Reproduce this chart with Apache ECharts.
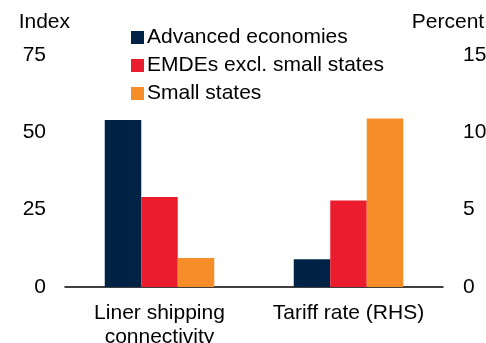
<!DOCTYPE html>
<html lang="en">
<head>
    <meta charset="UTF-8">
    <title>Liner shipping connectivity and tariff rate</title>
    <script src="https://cdn.jsdelivr.net/npm/echarts@6/dist/echarts.min.js"></script>
    <style>
        html, body { margin: 0; padding: 0; background: #fff; }
        #main { width: 486px; height: 343px; }
    </style>
</head>
<body>
<div id="main"></div>
<script>
    // categories and series
    const categories = ['Liner shipping\nconnectivity', 'Tariff rate (RHS)'];
    const seriesNames = ['Advanced economies', 'EMDEs excl. small states', 'Small states'];
    const colors = ['#002345', '#EB1C2D', '#F78D28'];

    // liner shipping connectivity, index (left axis)
    const linerIndex = [54.0, 29.1, 9.4];
    // tariff rate, percent (right axis)
    const tariffPct = [1.8, 5.6, 10.9];

    const leftTicks = { min: 0, max: 75, interval: 25 };
    const rightTicks = { min: 0, max: 15, interval: 5 };

    const chart = echarts.init(document.getElementById('main'));
    const font = 'Liberation Sans, Arial, sans-serif';

    const series = [];
    // left axis bars: first category only
    seriesNames.forEach((name, i) => {
        series.push({
            name: name,
            type: 'bar',
            xAxisIndex: 0,
            yAxisIndex: 0,
            barWidth: 36.5,
            barGap: '0%',
            itemStyle: { color: colors[i] },
            data: [linerIndex[i], '-']
        });
    });
    // right axis bars: second category only
    seriesNames.forEach((name, i) => {
        series.push({
            name: name,
            type: 'bar',
            xAxisIndex: 1,
            yAxisIndex: 1,
            barWidth: 36.5,
            barGap: '0%',
            itemStyle: { color: colors[i] },
            data: ['-', tariffPct[i]]
        });
    });

    const option = {
        animation: false,
        textStyle: { fontFamily: font },
        grid: { left: 65, right: 43, top: 55, bottom: 56, containLabel: false, outerBoundsMode: 'none' },
        legend: {
            orient: 'vertical',
            left: 131,
            top: 27,
            padding: 0,
            itemWidth: 13,
            itemHeight: 13,
            itemGap: 7,
            icon: 'rect',
            data: seriesNames,
            textStyle: { fontSize: 21, color: '#000', fontFamily: font, padding: [0, 0, 0, -2] }
        },
        xAxis: [
            {
                type: 'category',
                data: categories,
                axisLine: { lineStyle: { color: '#000', width: 1.5 } },
                axisTick: { show: false },
                axisLabel: {
                    fontSize: 21, color: '#000', margin: 14, lineHeight: 24,
                    interval: 0, fontFamily: font
                }
            },
            {
                type: 'category',
                data: categories,
                show: false
            }
        ],
        yAxis: [
            {
                type: 'value',
                min: leftTicks.min, max: leftTicks.max, interval: leftTicks.interval,
                name: 'Index',
                nameLocation: 'end',
                nameGap: 22,
                nameTextStyle: { fontSize: 21, color: '#000', align: 'right', padding: [0, -5, 0, 0], fontFamily: font },
                axisLine: { show: false },
                axisTick: { show: false },
                splitLine: { show: false },
                axisLabel: { fontSize: 21, color: '#000', margin: 19, fontFamily: font }
            },
            {
                type: 'value',
                position: 'right',
                min: rightTicks.min, max: rightTicks.max, interval: rightTicks.interval,
                name: 'Percent',
                nameLocation: 'end',
                nameGap: 22,
                nameTextStyle: { fontSize: 21, color: '#000', align: 'center', padding: [0, 0, 0, 10], fontFamily: font },
                axisLine: { show: false },
                axisTick: { show: false },
                splitLine: { show: false },
                axisLabel: { fontSize: 21, color: '#000', margin: 20, fontFamily: font }
            }
        ],
        series: series
    };

    chart.setOption(option);
</script>
</body>
</html>
